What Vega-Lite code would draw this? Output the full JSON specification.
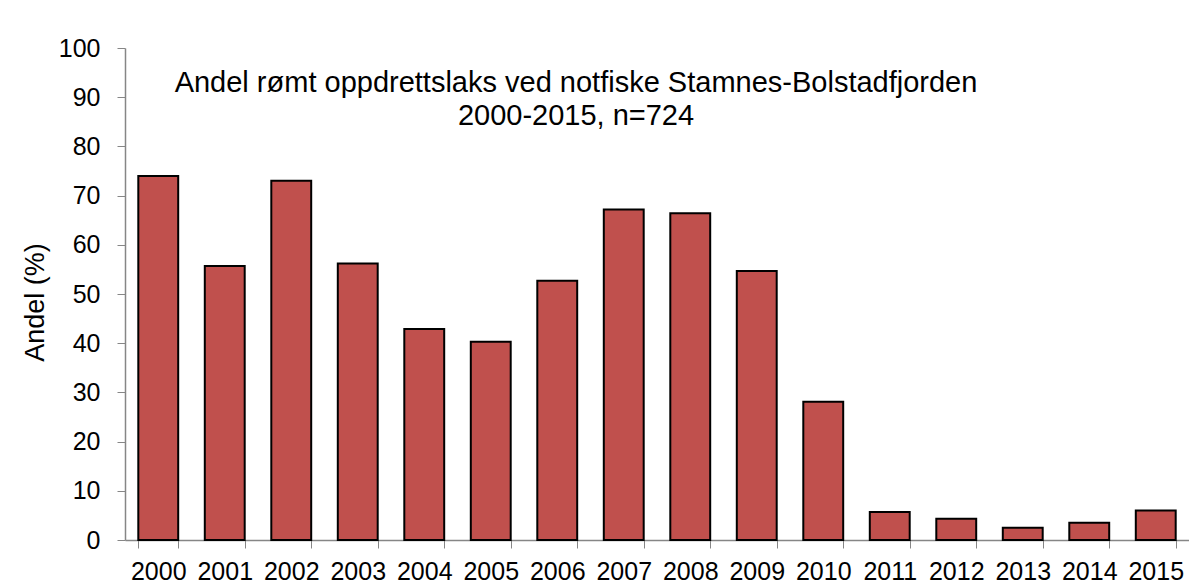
{
  "$schema": "https://vega.github.io/schema/vega-lite/v6.json",
  "width": 1064,
  "height": 492,
  "autosize": {"type": "none"},
  "padding": {"left": 125, "top": 48, "right": 0, "bottom": 47},
  "background": "white",
  "data": {
    "values": [
      {"year": "2000", "andel": 74.0},
      {"year": "2001", "andel": 55.7},
      {"year": "2002", "andel": 73.0},
      {"year": "2003", "andel": 56.2},
      {"year": "2004", "andel": 42.9},
      {"year": "2005", "andel": 40.3},
      {"year": "2006", "andel": 52.7},
      {"year": "2007", "andel": 67.2},
      {"year": "2008", "andel": 66.4},
      {"year": "2009", "andel": 54.7},
      {"year": "2010", "andel": 28.1},
      {"year": "2011", "andel": 5.7},
      {"year": "2012", "andel": 4.3},
      {"year": "2013", "andel": 2.5},
      {"year": "2014", "andel": 3.5},
      {"year": "2015", "andel": 6.0}
    ]
  },
  "title": {
    "text": ["Andel rømt oppdrettslaks ved notfiske Stamnes-Bolstadfjorden", "2000-2015, n=724"],
    "anchor": "middle",
    "orient": "top",
    "offset": -45,
    "baseline": "alphabetic",
    "dx": -81,
    "dy": 73,
    "font": "Liberation Sans",
    "fontSize": 29,
    "fontWeight": "normal",
    "color": "black",
    "lineHeight": 33
  },
  "mark": {"type": "bar", "fill": "#C0504D", "stroke": "black", "strokeWidth": 2},
  "encoding": {
    "x": {
      "field": "year",
      "type": "nominal",
      "scale": {"paddingInner": 0.4, "paddingOuter": 0.2},
      "axis": {
        "title": null,
        "labelAngle": 0,
        "tickBand": "extent",
        "tickSize": 8,
        "tickColor": "#868686",
        "domainColor": "#868686",
        "domainWidth": 1.5,
        "labelPadding": 11,
        "labelFont": "Liberation Sans",
        "labelFontSize": 25,
        "labelColor": "black"
      }
    },
    "y": {
      "field": "andel",
      "type": "quantitative",
      "scale": {"domain": [0, 100]},
      "axis": {
        "title": "Andel (%)",
        "grid": false,
        "values": [0, 10, 20, 30, 40, 50, 60, 70, 80, 90, 100],
        "tickSize": 8,
        "tickColor": "#868686",
        "domainColor": "#868686",
        "domainWidth": 1.5,
        "labelPadding": 17,
        "labelFont": "Liberation Sans",
        "labelFontSize": 25,
        "labelColor": "black",
        "titleFont": "Liberation Sans",
        "titleFontSize": 27,
        "titleFontWeight": "normal",
        "titleColor": "black",
        "titlePadding": 9,
        "titleY": 254
      }
    }
  },
  "config": {"view": {"stroke": null}}
}
